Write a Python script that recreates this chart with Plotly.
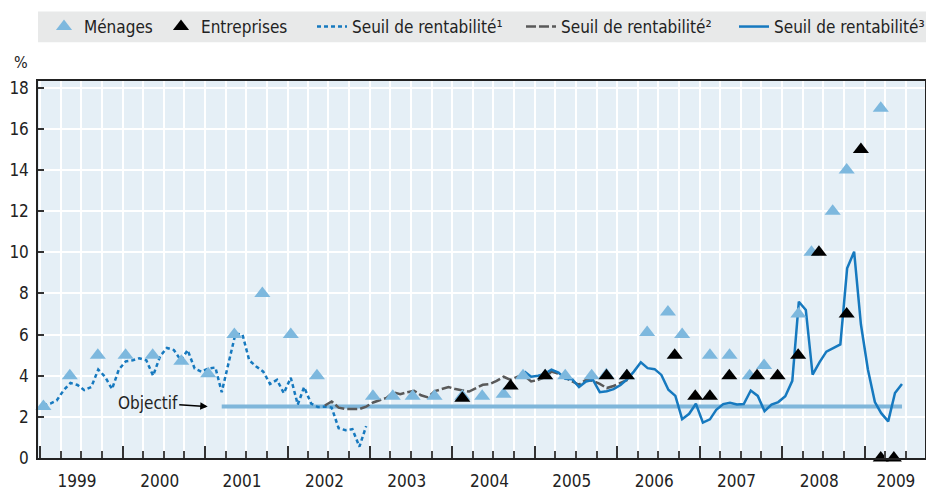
import plotly.graph_objects as go
import pandas as pd

FONT = "Liberation Sans Narrow, Arial Narrow, DejaVu Sans Condensed, sans-serif"

# ---------------- data ----------------
menages_dates = ["1999-01-15", "1999-05-12", "1999-09-13", "2000-01-14", "2000-05-13",
                 "2000-09-17", "2001-01-14", "2001-05-10", "2001-09-11", "2002-01-15",
                 "2002-05-11", "2003-01-14", "2003-04-12", "2003-07-09", "2003-10-14",
                 "2004-02-14", "2004-05-12", "2004-08-15", "2004-11-09", "2005-02-15",
                 "2005-05-15", "2005-09-09", "2005-11-13", "2006-02-12", "2006-05-13",
                 "2006-08-13", "2006-10-15", "2007-02-15", "2007-05-13", "2007-08-10",
                 "2007-10-13", "2008-03-13", "2008-05-10", "2008-08-12", "2008-10-13",
                 "2009-03-13"]
menages_vals = [2.5, 4, 5, 5, 5,
                4.7, 4.1, 6, 8, 6,
                4, 3, 3, 3, 3,
                3, 3, 3.1, 4, 4,
                4, 4, 4.05, 4, 6.1,
                7.1, 6, 5, 5, 4,
                4.5, 7, 10, 12, 14,
                17]

entreprises_dates = ["2004-02-14", "2004-09-15", "2005-02-15", "2005-11-14", "2006-02-12",
                     "2006-09-12", "2006-12-12", "2007-02-15", "2007-05-12", "2007-09-12",
                     "2007-12-12", "2008-03-12", "2008-06-12", "2008-10-13", "2008-12-15",
                     "2009-03-13", "2009-05-10"]
entreprises_vals = [2.9, 3.5, 4, 4, 4,
                    5, 3, 3, 4, 4,
                    4, 5, 10, 7, 15,
                    0, 0]

# monthly series (first month given, one value per month)
seuil1_start = "1999-01-01"
seuil1_vals = [2.55, 2.65, 2.8, 3.3, 3.65, 3.55, 3.3, 3.45, 4.3, 3.95,
               3.35, 4.3, 4.7, 4.75, 4.85, 4.75, 4.0, 4.95, 5.35, 5.25,
               4.75, 5.25, 4.35, 4.2, 4.35, 4.4, 3.2, 4.65, 6.05, 6.0,
               4.75, 4.45, 4.2, 3.6, 3.8, 3.15, 3.9, 2.6, 3.45, 2.65,
               2.48, 2.5, 2.45, 1.45, 1.35, 1.4, 0.55, 1.55]

seuil2_start = "2002-06-01"
seuil2_vals = [2.55, 2.75, 2.45, 2.38, 2.38, 2.38, 2.5, 2.7, 2.82, 2.92,
               3.2, 3.1, 3.2, 3.27, 3.05, 2.95, 3.25, 3.35, 3.45, 3.35,
               3.3, 3.23, 3.4, 3.56, 3.6, 3.75, 3.95, 3.8, 3.95, 4.0,
               3.72, 3.8, 3.93, 4.2, 4.1, 3.9, 3.72, 3.56, 3.8, 3.75,
               3.6, 3.4, 3.5, 3.65, 3.8]

seuil3_start = "2004-11-01"
seuil3_vals = [4.2, 3.95, 4.0, 4.1, 4.3, 4.15, 3.85, 3.83, 3.45, 3.72,
               3.8, 3.2, 3.25, 3.35, 3.55, 3.85, 4.2, 4.65, 4.37, 4.32,
               4.04, 3.32, 3.02, 1.89, 2.15, 2.64, 1.72, 1.88, 2.34, 2.62,
               2.68, 2.6, 2.62, 3.28, 3.02, 2.28, 2.6, 2.72, 3.0, 3.75,
               7.6, 7.2, 4.05, 4.66, 5.17, 5.34, 5.52, 9.22, 10.03, 6.5,
               4.3, 2.72, 2.18, 1.78, 3.16, 3.6]

objectif_dates = ["2001-03-15", "2009-06-15"]
objectif_vals = [2.5, 2.5]

year_labels = ["1999", "2000", "2001", "2002", "2003", "2004", "2005", "2006", "2007", "2008", "2009"]
year_label_pos = ["1999-06-13", "2000-06-13", "2001-06-13", "2002-06-13", "2003-06-13", "2004-06-13",
                  "2005-06-13", "2006-06-13", "2007-06-13", "2008-06-13", "2009-05-19"]
year_starts = ["%s-01-01" % y for y in year_labels]

y_ticks = [0, 2, 4, 6, 8, 10, 12, 14, 16, 18]

X_RANGE = ["1998-12-22", "2009-09-25"]


def monthly(start, vals):
    return pd.date_range(start=start, periods=len(vals), freq="MS") + pd.Timedelta(days=14)


LIGHT_BLUE = "#7DB8DE"
BLUE = "#1679BF"
GREY = "#595959"

fig = go.Figure()

fig.add_trace(go.Scatter(x=objectif_dates, y=objectif_vals, mode="lines",
                         line=dict(color="#7FB6DA", width=4), showlegend=False,
                         hoverinfo="skip"))
fig.add_trace(go.Scatter(x=monthly(seuil1_start, seuil1_vals), y=seuil1_vals, mode="lines",
                         name="Seuil de rentabilité¹", legend="legend3",
                         line=dict(color=BLUE, width=2.5, dash="4px,3px")))
fig.add_trace(go.Scatter(x=monthly(seuil2_start, seuil2_vals), y=seuil2_vals, mode="lines",
                         name="Seuil de rentabilité²", legend="legend4",
                         line=dict(color=GREY, width=2.5, dash="10px,3px")))
fig.add_trace(go.Scatter(x=monthly(seuil3_start, seuil3_vals), y=seuil3_vals, mode="lines",
                         name="Seuil de rentabilité³", legend="legend5",
                         line=dict(color=BLUE, width=2.5)))
fig.add_trace(go.Scatter(x=menages_dates, y=menages_vals, mode="markers", name="Ménages",
                         legend="legend", cliponaxis=False,
                         marker=dict(symbol="triangle-up", size=14, color=LIGHT_BLUE,
                                     line=dict(width=0))))
fig.add_trace(go.Scatter(x=entreprises_dates, y=entreprises_vals, mode="markers", name="Entreprises",
                         legend="legend2", cliponaxis=False,
                         marker=dict(symbol="triangle-up", size=14, color="#000000",
                                     line=dict(width=0))))
# carrier for the year-label axis
fig.add_trace(go.Scatter(x=[year_label_pos[0]], y=[None], xaxis="x2", mode="markers",
                         showlegend=False, hoverinfo="skip"))


def legend_at(px):
    return dict(orientation="h", xref="container", yref="container", x=px / 926,
                y=1 - 27 / 491, xanchor="left", yanchor="middle", bgcolor="rgba(0,0,0,0)",
                font=dict(size=17, color="#222222"))


fig.update_layout(
    width=926, height=491,
    margin=dict(l=38, r=1, t=81, b=33, autoexpand=False),
    paper_bgcolor="white",
    plot_bgcolor="#E5EFF6",
    font=dict(family=FONT, size=17, color="#222222"),
    xaxis=dict(type="date", range=X_RANGE, tickmode="array", tickvals=year_starts,
               ticks="inside", ticklen=12, tickwidth=1.5, tickcolor="#333333",
               showticklabels=False, showgrid=True, gridcolor="white", gridwidth=1.5,
               showline=True, linecolor="#222222", linewidth=1.5, mirror=True, zeroline=False,
               automargin=False,
               minor=dict(dtick="M3", tick0="1999-01-01", ticks="inside", ticklen=7,
                          tickwidth=1.5, tickcolor="#444444", showgrid=True,
                          gridcolor="white", gridwidth=1.5)),
    xaxis2=dict(type="date", range=X_RANGE, overlaying="x", anchor="y", side="bottom",
                tickmode="array", tickvals=year_label_pos, ticktext=year_labels,
                ticks="outside", ticklen=8, tickcolor="rgba(0,0,0,0)", automargin=False,
                showgrid=False, showline=False, zeroline=False,
                tickfont=dict(size=17, color="#222222")),
    yaxis=dict(range=[0, 18.33], tickmode="array", tickvals=y_ticks, ticks="inside",
               ticklen=6, tickwidth=1.5, tickcolor="#333333", showgrid=True,
               gridcolor="white", gridwidth=1.5, showline=True, linecolor="#222222",
               linewidth=1.5, mirror=True, zeroline=False, automargin=False,
               tickfont=dict(size=17, color="#222222"), ticklabelstandoff=4),
    legend=legend_at(44),
    legend2=legend_at(161),
    legend3=legend_at(312),
    legend4=legend_at(521),
    legend5=legend_at(734),
    showlegend=True,
)

fig.add_shape(type="rect", xref="paper", yref="paper", x0=0, x1=1.002,
              y0=(458.3 - 42) / 377.6, y1=(458.3 - 11) / 377.6,
              fillcolor="#E8E9E9", line=dict(width=0), layer="below")

fig.add_annotation(text="%", xref="paper", yref="paper", x=(21 - 38) / 887,
                   y=(458.3 - 62) / 377.6, showarrow=False, xanchor="center", yanchor="middle",
                   font=dict(size=16, color="#222222"))

fig.add_annotation(text="Objectif", x="2001-01-12", y=2.5, xref="x", yref="y",
                   showarrow=True, ax=-60, ay=-4, arrowhead=2, arrowsize=1,
                   arrowwidth=1.5, arrowcolor="#000000",
                   font=dict(size=17, color="#222222"))

fig.write_html("out.html", config={"displayModeBar": False},
               post_script="document.body.style.margin='0';")
